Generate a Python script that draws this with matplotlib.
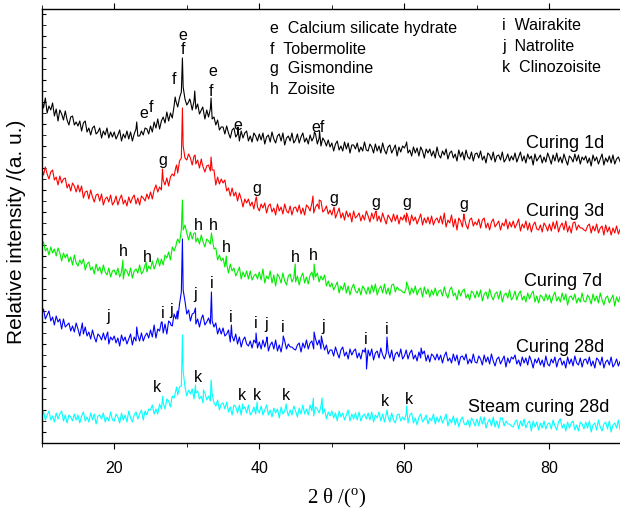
import numpy as np
import matplotlib
matplotlib.use("Agg")
import matplotlib.pyplot as plt

plt.rcParams['font.family'] = ['Liberation Sans', 'DejaVu Sans']
plt.rcParams['mathtext.fontset'] = 'custom'
plt.rcParams['mathtext.rm'] = 'Liberation Serif'

# 2-theta grid (degrees), 0.25 deg step from 10 to 90
two_theta = np.arange(10.0, 90.001, 0.25)

# ---- Curing 1d (black) ----
c1d = [348, 339, 349, 334, 341, 337, 344, 331, 338, 326, 337, 333, 327, 336, 327, 322, 330, 331, 322, 325,
       321, 326, 316, 324, 326, 315, 319, 312, 319, 321, 313, 315, 319, 309, 316, 312, 319, 309, 315, 310,
       315, 308, 312, 317, 306, 313, 309, 316, 308, 315, 306, 313, 318, 311, 311, 316, 312, 319, 318, 313,
       321, 315, 325, 319, 328, 318, 326, 330, 324, 335, 326, 334, 329, 341, 346, 340, 349, 355, 360, 348,
       342, 345, 346, 337, 346, 338, 343, 333, 337, 338, 328, 337, 330, 338, 328, 330, 322, 327, 317, 320,
       320, 313, 321, 314, 309, 317, 319, 310, 313, 306, 316, 309, 314, 316, 306, 311, 305, 314, 311, 306,
       313, 307, 314, 303, 310, 312, 305, 315, 308, 304, 311, 313, 306, 314, 302, 309, 311, 306, 314, 304,
       307, 313, 304, 310, 314, 305, 309, 303, 312, 306, 310, 313, 303, 309, 301, 309, 306, 301, 307, 300,
       304, 296, 303, 306, 297, 301, 296, 305, 298, 304, 294, 302, 302, 298, 304, 295, 300, 296, 305, 297,
       296, 303, 300, 294, 303, 296, 301, 294, 304, 297, 293, 300, 302, 294, 298, 302, 291, 300, 295, 301,
       299, 303, 294, 297, 291, 300, 294, 299, 291, 300, 296, 289, 298, 294, 298, 291, 296, 289, 300, 292,
       289, 296, 292, 298, 288, 294, 296, 289, 293, 286, 297, 290, 295, 287, 297, 290, 288, 295, 286, 293,
       294, 289, 296, 287, 291, 284, 294, 292, 287, 295, 285, 291, 292, 287, 295, 285, 288, 293, 286, 291,
       287, 294, 285, 290, 295, 286, 291, 284, 293, 288, 291, 282, 293, 286, 289, 292, 284, 290, 285, 294,
       289, 283, 292, 286, 294, 285, 290, 284, 293, 287, 282, 291, 289, 285, 293, 286, 292, 283, 290, 287,
       291, 284, 289, 281, 292, 286, 290, 283, 288, 293, 282, 289, 285, 291, 284, 292, 283, 288, 290, 285,
       288]
c1d_peak_pos = [23.1, 28.4, 29.4, 30.4, 31.1, 32.2, 33.35, 37.05, 47.6, 48.3, 60.3]
c1d_peak_h = [325, 350, 389, 348, 356, 340, 349, 320, 315, 316, 305]

# ---- Curing 3d (red) ----
c3d = [279, 272, 280, 273, 268, 275, 277, 267, 270, 262, 271, 264, 268, 269, 259, 263, 256, 264, 261, 255,
       262, 255, 261, 249, 255, 256, 248, 257, 250, 245, 252, 253, 246, 253, 242, 248, 250, 245, 252, 242,
       245, 251, 242, 248, 252, 243, 247, 241, 250, 244, 249, 252, 243, 249, 242, 251, 249, 246, 253, 248,
       255, 248, 257, 262, 255, 260, 257, 267, 262, 269, 261, 270, 273, 271, 280, 274, 286, 289, 301, 289,
       287, 293, 289, 282, 291, 283, 287, 279, 288, 280, 275, 281, 282, 276, 277, 277, 262, 270, 263, 268,
       264, 267, 256, 259, 251, 259, 251, 255, 246, 254, 248, 240, 248, 244, 248, 241, 245, 238, 248, 240,
       236, 243, 239, 244, 234, 241, 243, 235, 239, 232, 243, 236, 240, 233, 243, 236, 234, 241, 232, 239,
       240, 235, 242, 233, 239, 232, 242, 240, 236, 244, 234, 240, 243, 238, 246, 235, 237, 241, 233, 237,
       232, 239, 229, 234, 239, 229, 234, 227, 236, 230, 234, 225, 236, 229, 231, 234, 226, 232, 227, 236,
       231, 225, 234, 228, 235, 226, 231, 225, 234, 228, 223, 232, 229, 225, 233, 226, 232, 223, 230, 227,
       232, 225, 230, 222, 232, 226, 230, 223, 228, 233, 222, 229, 224, 230, 223, 231, 222, 227, 229, 224,
       231, 223, 234, 220, 227, 224, 232, 220, 228, 217, 229, 226, 220, 230, 222, 218, 227, 229, 221, 225,
       222, 228, 219, 227, 229, 219, 224, 217, 225, 228, 220, 223, 226, 217, 224, 221, 228, 218, 225, 220,
       226, 219, 223, 228, 216, 223, 219, 226, 217, 224, 215, 222, 225, 218, 217, 222, 215, 224, 221, 216,
       223, 216, 225, 218, 226, 215, 221, 224, 217, 226, 215, 221, 214, 224, 225, 217, 222, 219, 219, 217,
       216, 221, 223, 214, 221, 216, 223, 214, 219, 221, 212, 222, 215, 220, 212, 219, 214, 221, 213, 218,
       217]
c3d_peak_pos = [26.65, 28.6, 29.4, 31.15, 32.1, 33.35, 39.6, 47.4, 48.25, 50.3, 56.1, 60.3, 68.2]
c3d_peak_h = [278, 282, 339, 292, 284, 290, 250, 251, 247, 240, 236, 234, 233]

# ---- Curing 7d (green) ----
c7d = [202, 205, 196, 199, 192, 200, 194, 198, 191, 199, 194, 186, 194, 189, 193, 185, 190, 182, 192, 184,
       181, 187, 183, 188, 177, 183, 185, 177, 180, 173, 183, 176, 180, 173, 182, 175, 172, 179, 170, 176,
       177, 172, 179, 170, 175, 168, 178, 176, 171, 179, 169, 176, 178, 174, 182, 173, 176, 182, 175, 181,
       178, 186, 178, 183, 189, 181, 188, 182, 192, 189, 195, 187, 200, 196, 201, 208, 204, 217, 217, 222,
       214, 207, 215, 208, 214, 205, 209, 203, 212, 205, 200, 208, 206, 203, 209, 198, 199, 187, 192, 186,
       189, 180, 183, 174, 183, 176, 179, 171, 175, 180, 168, 175, 170, 176, 168, 176, 167, 171, 173, 168,
       175, 167, 178, 164, 171, 168, 176, 164, 172, 161, 173, 170, 164, 174, 166, 162, 171, 173, 165, 169,
       165, 171, 162, 170, 174, 164, 170, 163, 172, 175, 167, 170, 174, 165, 171, 167, 172, 161, 166, 160,
       164, 157, 161, 165, 154, 161, 157, 164, 154, 161, 152, 159, 163, 156, 154, 159, 152, 161, 158, 153,
       160, 153, 162, 155, 163, 152, 158, 161, 154, 163, 153, 159, 152, 162, 163, 155, 160, 157, 157, 155,
       154, 159, 161, 152, 159, 154, 161, 152, 157, 159, 150, 160, 153, 158, 150, 157, 152, 159, 151, 156,
       157, 151, 160, 153, 149, 157, 160, 151, 154, 147, 157, 151, 156, 158, 149, 153, 147, 156, 154, 149,
       156, 150, 157, 146, 153, 155, 148, 158, 151, 147, 153, 155, 148, 156, 145, 152, 154, 149, 157, 147,
       150, 156, 147, 153, 156, 147, 151, 145, 154, 148, 153, 156, 145, 151, 144, 152, 150, 146, 153, 147,
       152, 144, 151, 155, 146, 150, 145, 154, 147, 153, 142, 150, 151, 147, 153, 144, 149, 145, 154, 146,
       145, 152, 149, 143, 153, 146, 151, 144, 154, 147, 142, 149, 151, 144, 148, 152, 141, 150, 145, 151,
       147]
c7d_peak_pos = [21.2, 24.4, 28.6, 29.4, 31.2, 33.4, 35.45, 44.95, 47.55, 60.3]
c7d_peak_h = [187, 185, 205, 247, 214, 214, 191, 183, 183, 165]

# ---- Curing 28d (blue) ----
c28d = [132, 138, 128, 132, 136, 126, 130, 122, 131, 125, 128, 118, 128, 120, 122, 124, 116, 121, 115, 124,
        118, 111, 120, 113, 120, 111, 115, 108, 117, 110, 105, 113, 111, 107, 114, 107, 113, 103, 110, 107,
        111, 104, 109, 101, 112, 106, 110, 103, 108, 113, 102, 110, 106, 112, 106, 114, 106, 111, 114, 109,
        117, 110, 122, 109, 118, 116, 125, 114, 123, 113, 126, 124, 121, 133, 128, 128, 143, 155, 157, 146,
        133, 137, 126, 133, 134, 123, 128, 120, 128, 131, 122, 125, 129, 123, 126, 120, 124, 113, 119, 113,
        119, 111, 113, 117, 105, 111, 106, 113, 103, 110, 100, 107, 110, 103, 101, 106, 99, 107, 104, 99,
        105, 98, 107, 100, 107, 96, 102, 105, 98, 107, 96, 102, 95, 105, 106, 98, 103, 100, 100, 98,
        97, 102, 104, 95, 104, 99, 107, 98, 104, 106, 98, 108, 102, 107, 98, 104, 97, 102, 93, 97,
        97, 91, 100, 94, 89, 97, 100, 91, 95, 88, 98, 92, 96, 98, 89, 94, 88, 97, 95, 90,
        97, 91, 98, 87, 94, 96, 89, 99, 92, 88, 94, 96, 89, 97, 86, 93, 95, 90, 98, 88,
        91, 97, 88, 94, 97, 88, 92, 86, 95, 89, 93, 96, 86, 92, 85, 93, 91, 87, 93, 87,
        92, 84, 91, 95, 86, 89, 84, 93, 86, 92, 82, 90, 91, 87, 93, 83, 88, 84, 93, 85,
        84, 91, 88, 82, 92, 85, 90, 83, 93, 86, 81, 88, 90, 83, 87, 91, 80, 89, 84, 90,
        88, 92, 83, 87, 81, 90, 84, 89, 82, 91, 86, 79, 88, 84, 89, 82, 87, 80, 91, 83,
        81, 88, 84, 90, 80, 87, 89, 82, 86, 79, 90, 83, 88, 81, 91, 84, 82, 89, 80, 87,
        88, 83, 90, 81, 86, 79, 89, 87, 82, 90, 79, 85, 87, 82, 90, 80, 83, 88, 81, 86,
        84]
c28d_peak_pos = [15.6, 19.1, 23.1, 26.6, 27.8, 28.7, 29.4, 31.2, 32.2, 33.4, 36.15,
                 39.55, 41.05, 43.3, 47.55, 48.55, 54.62, 54.78, 57.6, 62.3]
c28d_peak_h = [124, 115, 120, 125, 122, 136, 208, 139, 132, 155, 122,
               114, 110, 111, 115, 111, 99, 78, 110, 99]

# ---- Steam curing 28d (cyan) ----
steam28d = [30, 36, 27, 32, 36, 27, 31, 25, 34, 28, 33, 36, 26, 32, 24, 32, 30, 26, 33, 27,
            32, 24, 31, 35, 26, 30, 25, 34, 27, 33, 23, 31, 32, 28, 34, 25, 30, 26, 35, 27,
            26, 33, 30, 24, 34, 27, 32, 25, 36, 29, 25, 32, 35, 28, 33, 37, 27, 36, 32, 38,
            37, 42, 33, 38, 33, 43, 38, 44, 38, 48, 46, 40, 51, 49, 57, 52, 60, 61, 76, 60,
            51, 57, 53, 58, 48, 54, 56, 48, 51, 44, 54, 47, 51, 46, 53, 44, 41, 47, 37, 43,
            44, 38, 45, 35, 40, 32, 42, 40, 34, 42, 32, 38, 40, 34, 42, 32, 35, 40, 33, 38,
            34, 41, 32, 37, 42, 32, 37, 30, 39, 34, 38, 29, 40, 33, 36, 39, 31, 37, 32, 41,
            36, 30, 39, 33, 42, 33, 38, 32, 42, 36, 31, 40, 38, 34, 41, 33, 38, 28, 35, 31,
            36, 29, 34, 26, 36, 30, 34, 27, 32, 37, 26, 33, 28, 34, 27, 35, 26, 31, 33, 28,
            34, 27, 35, 25, 32, 29, 35, 26, 33, 25, 33, 30, 25, 34, 27, 24, 32, 33, 26, 30,
            27, 33, 24, 32, 34, 24, 29, 22, 30, 33, 25, 28, 32, 23, 29, 26, 33, 23, 30, 25,
            31, 24, 28, 33, 21, 28, 24, 31, 22, 29, 20, 27, 30, 23, 22, 27, 20, 29, 26, 21,
            28, 21, 30, 23, 30, 19, 25, 28, 21, 30, 20, 26, 19, 29, 29, 21, 26, 23, 23, 21,
            20, 25, 27, 18, 26, 21, 28, 19, 24, 26, 16, 26, 20, 25, 17, 24, 19, 26, 18, 23,
            24, 18, 27, 21, 17, 25, 28, 19, 23, 16, 25, 19, 24, 26, 17, 22, 16, 25, 23, 18,
            25, 19, 26, 15, 22, 24, 17, 27, 20, 16, 23, 25, 18, 26, 15, 22, 24, 19, 27, 17,
            21]
steam_peak_pos = [26.7, 28.6, 29.4, 31.2, 32.3, 33.35, 37.7, 39.7, 43.7, 47.45, 48.65, 57.6, 60.3]
steam_peak_h = [51, 60, 112, 62, 57, 67, 43, 45, 43, 49, 49, 37, 41]

series = [
    (c1d, c1d_peak_pos, c1d_peak_h, "#000000"),
    (c3d, c3d_peak_pos, c3d_peak_h, "#ff0000"),
    (c7d, c7d_peak_pos, c7d_peak_h, "#00ee00"),
    (c28d, c28d_peak_pos, c28d_peak_h, "#0000ff"),
    (steam28d, steam_peak_pos, steam_peak_h, "#00ffff"),
]

curve_labels = ["Curing 1d", "Curing 3d", "Curing 7d", "Curing 28d", "Steam curing 28d"]
curve_label_x = [87.6, 87.6, 87.2, 87.6, 88.2]
curve_label_y = [304, 235, 166, 100, 40]

# peak annotation letters (2theta, y, letter)
peak_letters = [
    (29.45, 412, "e"), (29.45, 397, "f"), (28.2, 367, "f"),
    (33.6, 376, "e"), (33.4, 355, "f"), (24.1, 334, "e"), (25.0, 340, "f"),
    (37.0, 322, "e"), (48.1, 320, "ef"),
    (26.7, 286, "g"), (39.65, 259, "g"), (50.3, 248, "g"), (56.1, 244, "g"),
    (60.3, 245, "g"), (68.2, 243, "g"),
    (21.2, 195, "h"), (24.5, 190, "h"), (31.65, 221, "h"), (33.6, 221, "h"),
    (35.5, 199, "h"), (45.0, 189, "h"), (47.4, 191, "h"),
    (19.1, 130, "j"), (26.7, 134, "i"), (27.8, 136, "j"), (31.2, 152, "j"),
    (33.4, 164, "i"), (36.1, 130, "i"), (39.5, 123, "i"), (41.0, 122, "j"),
    (43.2, 120, "i"), (48.8, 120, "j"), (54.7, 107, "i"), (57.6, 118, "i"),
    (25.9, 59, "k"), (31.5, 70, "k"), (37.6, 52, "k"), (39.65, 52, "k"),
    (43.65, 52, "k"), (57.3, 45, "k"), (60.6, 47, "k"),
]

phase_left = ["e  Calcium silicate hydrate", "f  Tobermolite", "g  Gismondine", "h  Zoisite"]
phase_left_y = [418, 398, 378, 357]
phase_right = ["i  Wairakite", "j  Natrolite", "k  Clinozoisite"]
phase_right_y = [422, 400, 380]

W, H = 620, 509
fig = plt.figure(figsize=(W / 100, H / 100), dpi=100)
left_px, right_px, top_px, bot_px = 41.7, 622.0, 9.3, 443.0
ax = fig.add_axes([left_px / W, 1 - bot_px / H, (right_px - left_px) / W, (bot_px - top_px) / H])

for vals, ppos, ph, col in series:
    x = np.concatenate([two_theta, np.array(ppos, dtype=float)])
    y = np.concatenate([np.array(vals, dtype=float), np.array(ph, dtype=float)])
    order = np.argsort(x, kind='stable')
    ax.plot(x[order], y[order], color=col, lw=0.8)

ax.set_xlim(10, 90)
ax.set_ylim(4, 437.7)

for t, xx, yy in zip(curve_labels, curve_label_x, curve_label_y):
    ax.text(xx, yy, t, ha='right', va='center', fontsize=13)

for xx, yy, s in peak_letters:
    ax.text(xx, yy, s, ha='center', va='center', fontsize=11.5)

for t, yy in zip(phase_left, phase_left_y):
    ax.text(41.45, yy, t, ha='left', va='center', fontsize=11.5)
for t, yy in zip(phase_right, phase_right_y):
    ax.text(73.45, yy, t, ha='left', va='center', fontsize=11.5)

ax.spines['right'].set_visible(False)
for s in ['left', 'top', 'bottom']:
    ax.spines[s].set_linewidth(1.0)

ax.set_xticks([20, 40, 60, 80])
ax.set_xticks([10, 30, 50, 70, 90], minor=True)
ax.tick_params(axis='x', which='both', direction='out', top=True, labelsize=11.5, pad=9)
ax.tick_params(axis='x', which='major', length=4)
ax.tick_params(axis='x', which='minor', length=3)
ax.set_yticks(np.arange(4 + 11, 437, 22))
ax.set_yticks(np.arange(4 + 22, 437, 22), minor=True)
ax.tick_params(axis='y', which='both', direction='in', length=3, labelleft=False)

fig.text(16.5 / W, 1 - 231.5 / H, "Relative intensity /(a. u.)", rotation=90,
         ha='center', va='center', fontsize=15)
fig.text(337 / W, 1 - 498 / H, r"2 θ /($^{\rm o}$)", ha='center', va='center',
         fontsize=15, family=['Liberation Serif', 'DejaVu Serif'])

fig.savefig("out.png", dpi=100)
